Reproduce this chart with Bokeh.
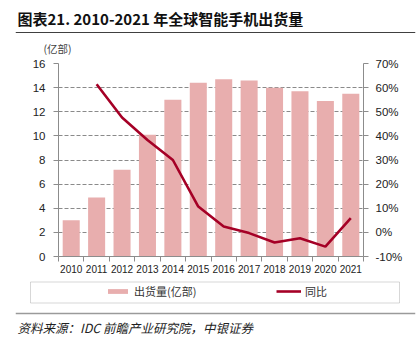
from bokeh.plotting import figure
from bokeh.layouts import column, row
from bokeh.models import (Range1d, LinearAxis, FixedTicker, Legend, LegendItem,
                          Label, BoxAnnotation, PrintfTickFormatter)
from bokeh.embed import file_html
from bokeh.resources import INLINE

years = ["2010", "2011", "2012", "2013", "2014", "2015", "2016", "2017", "2018", "2019", "2020", "2021"]
shipments = [3.0, 4.9, 7.2, 10.1, 13.0, 14.4, 14.7, 14.6, 14.0, 13.7, 12.9, 13.5]
growth_years = years[1:]
growth = [61.4, 47.6, 38.3, 30.0, 10.7, 2.4, -0.3, -4.2, -2.4, -5.9, 5.9]
left_ticks = [0, 2, 4, 6, 8, 10, 12, 14, 16]
right_ticks = [-10, 0, 10, 20, 30, 40, 50, 60, 70]

title_text = "图表21. 2010-2021 年全球智能手机出货量"
unit_text = "(亿部)"
legend_labels = ["出货量(亿部)", "同比"]
source_text = "资料来源：IDC 前瞻产业研究院，中银证券"

BAR = "#E8AEAE"
LINE = "#A50026"
AX = "#8C8C8C"
TXT = "#222222"
CJK = "Noto Sans CJK SC"
LAT = "Liberation Sans"
W = 417
RULE_L, RULE_R = 15, 415


def strip(h):
    """Blank strip; frame spans canvas x 15..415 (data x == canvas x),
    y data = distance up from the strip bottom."""
    f = figure(width=W, height=h, output_backend="svg", toolbar_location=None,
               x_range=Range1d(RULE_L, RULE_R), y_range=Range1d(0, h),
               x_axis_location=None, y_axis_location=None, min_border=0,
               min_border_left=RULE_L, min_border_right=W - RULE_R)
    f.grid.visible = False
    f.outline_line_color = None
    return f


def rule(f, y, color, width):
    f.segment(x0=[RULE_L], x1=[RULE_R], y0=[y], y1=[y], line_color=color, line_width=width)


# ---- title strip: canvas y 0..36, rule at canvas y 32 ----
TH = 36
top = strip(TH)
top.add_layout(Label(x=17, y=TH - 18, text=title_text, text_font=CJK, text_font_size="15px",
                     text_font_style="bold", text_color="#111111", text_baseline="middle"))
rule(top, TH - 32, "#404040", 1.2)

# ---- unit strip: canvas y 36..55 ----
unit = strip(19)
unit.add_layout(Label(x=43, y=55 - 48, text=unit_text, text_font=CJK, text_font_size="10.5px",
                      text_color="#444444", text_baseline="middle"))

# ---- main chart: canvas y 55..275 ----
xi = list(range(len(years)))
gx = [years.index(y) for y in growth_years]

p = figure(width=W, height=220, output_backend="svg", toolbar_location=None,
           x_range=Range1d(-0.5, len(years) - 0.5), y_range=Range1d(0, 16),
           min_border_left=58, min_border_right=54, min_border_top=8, min_border_bottom=18)
p.outline_line_color = None
p.extra_y_ranges = {"pct": Range1d(-10, 70)}

p.vbar(x=xi, top=shipments, width=0.67, fill_color=BAR, line_color=None)
p.line(x=gx, y=growth, y_range_name="pct", line_color=LINE, line_width=2.6)

p.xgrid.visible = False
p.ygrid.ticker = FixedTicker(ticks=left_ticks)
p.ygrid.grid_line_color = "#8A8A8A"
p.ygrid.grid_line_dash = "4 2"
p.ygrid.grid_line_width = 1

xa = p.xaxis[0]
xa.ticker = FixedTicker(ticks=xi, minor_ticks=[i - 0.5 for i in range(len(years) + 1)])
xa.major_label_overrides = {i: y for i, y in enumerate(years)}
xa.major_tick_line_color = None
xa.major_tick_out = 0
xa.major_tick_in = 0
xa.minor_tick_out = 5
xa.minor_tick_in = 0
xa.minor_tick_line_color = AX
xa.axis_line_color = AX
xa.major_label_standoff = 3
xa.major_label_text_font = LAT
xa.major_label_text_font_size = "10px"
xa.major_label_text_color = TXT

ya = p.yaxis[0]
ya.ticker = FixedTicker(ticks=left_ticks)
ya.axis_line_color = AX
ya.major_tick_line_color = AX
ya.major_tick_out = 5
ya.major_tick_in = 0
ya.minor_tick_line_color = None
ya.major_label_standoff = 8
ya.major_label_text_font = LAT
ya.major_label_text_font_size = "11.5px"
ya.major_label_text_color = TXT

ra = LinearAxis(y_range_name="pct", ticker=FixedTicker(ticks=right_ticks),
                formatter=PrintfTickFormatter(format="%d%%"))
ra.axis_line_color = AX
ra.major_tick_line_color = AX
ra.major_tick_out = 5
ra.major_tick_in = 0
ra.minor_tick_line_color = None
ra.major_label_standoff = 7
ra.major_label_text_font = LAT
ra.major_label_text_font_size = "11.5px"
ra.major_label_text_color = TXT
p.add_layout(ra, "right")

# ---- legend strip: canvas y 275..318, separator at canvas y 313 ----
LH = 43
leg = strip(LH)
leg.add_layout(BoxAnnotation(left=30, right=399, bottom=LH - 27.5, top=LH - 6.5,
                             fill_alpha=0, line_color="#7A7A7A", line_width=1))
# hidden proxies carrying the same series, used only for legend glyphs
bar_proxy = leg.vbar(x=xi, top=shipments, width=0.67, fill_color=BAR, line_color=None,
                     visible=False)
line_proxy = leg.line(x=gx, y=growth, line_color=LINE, line_width=2.6, visible=False)
legend = Legend(items=[LegendItem(label=legend_labels[0], renderers=[bar_proxy]),
                       LegendItem(label=legend_labels[1], renderers=[line_proxy])],
                orientation="horizontal", location=(105 - RULE_L, LH - 24),
                glyph_width=25, glyph_height=6, label_standoff=4, label_width=70,
                spacing=72, padding=0, margin=0,
                border_line_color=None, background_fill_alpha=0,
                inactive_fill_alpha=0,
                label_text_font=CJK, label_text_font_size="11px",
                label_text_color="#333333")
leg.add_layout(legend, "center")
rule(leg, LH - 38, "#9A9A9A", 1.5)

# ---- source strip: canvas y 318..337 ----
src = strip(19)
src.add_layout(Label(x=17, y=337 - 327, text=source_text, text_font=CJK, text_font_size="12.5px",
                     text_font_style="italic", text_color="#222222", text_baseline="middle"))

layout = column(row(top), row(unit), row(p), row(leg), row(src), spacing=0)
open("out.html", "w").write(file_html(layout, INLINE))
